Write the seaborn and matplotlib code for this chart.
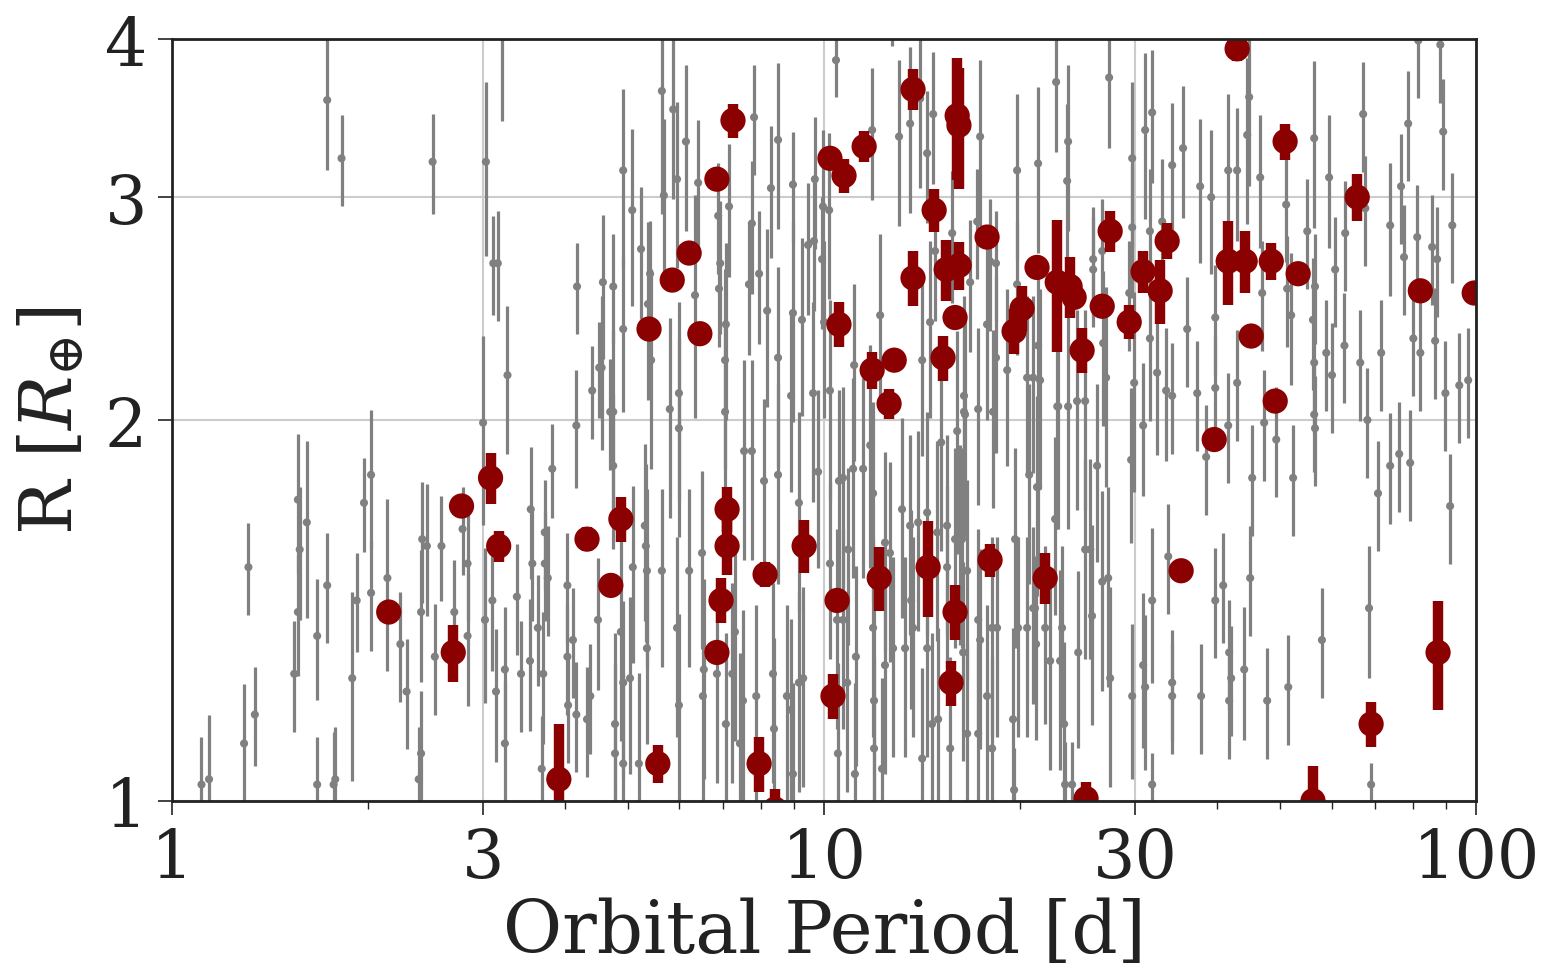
import numpy as np
import matplotlib
matplotlib.use("Agg")
import matplotlib.pyplot as plt
import seaborn as sns
from matplotlib.ticker import FixedLocator, NullFormatter, NullLocator

# --- all other planets (gray): period [d], radius [R_earth], fractional radius error
gray_period = [
    1.73, 1.82, 2.51, 3.03, 3.21, 3.11, 3.16, 4.18, 4.58, 1.56, 1.61, 1.57, 1.97, 2.02, 1.31, 1.73, 2.14, 2.42, 2.46, 2.59,
    2.79, 3.00, 3.27, 3.55, 3.83, 3.73, 4.17, 4.41, 4.52, 4.70, 1.11, 1.14, 1.29, 1.34, 1.56, 1.54, 1.67, 1.67, 1.78, 1.77,
    1.92, 1.89, 2.02, 2.24, 2.29, 2.41, 2.53, 2.41, 2.39, 2.71, 2.84, 2.84, 3.02, 3.10, 3.14, 3.24, 3.24, 3.38, 3.43, 3.57,
    3.54, 3.64, 3.71, 3.73, 3.77, 3.69, 4.04, 4.04, 4.12, 4.17, 4.05, 4.33, 4.38, 4.50, 5.64, 5.87, 4.92, 5.08, 5.24, 5.41,
    4.75, 5.68, 5.95, 6.14, 6.41, 6.88, 6.93, 6.90, 7.15, 7.67, 7.75, 7.81, 7.95, 8.29, 8.50, 8.96, 9.45, 9.65, 9.68, 9.93,
    9.96, 10.18, 10.43, 11.85, 13.03, 13.55, 14.04, 14.70, 14.39, 15.72, 14.80, 17.35, 17.17, 18.35, 19.77, 21.29, 16.75, 19.77, 17.97, 12.72,
    22.69, 23.59, 23.67, 27.36, 31.85, 31.07, 29.68, 34.18, 35.52, 37.73, 39.23, 41.66, 42.99, 44.86, 44.55, 46.64, 51.12, 56.44, 59.49, 67.09,
    78.64, 89.0, 76.7, 73.8, 91.9, 81.5, 88.1, 62.97, 60.77, 67.6, 77.5, 81.2, 85.6, 87.1, 29.68, 31.6, 33.0, 25.86, 25.86, 26.7,
    29.37, 51.3, 56.6, 46.97, 55.07, 21.29, 21.44, 22.78, 23.67, 24.43, 25.14, 26.79, 27.07, 26.22, 29.57, 29.89, 30.85, 31.6, 32.41, 33.46,
    34.18, 36.04, 37.34, 39.8, 39.8, 38.54, 41.66, 42.99, 45.34, 47.3, 49.36, 52.03, 52.39, 56.2, 56.44, 56.44, 56.6, 58.9, 60.1, 62.8,
    66.4, 68.1, 71.5, 70.7, 73.8, 76.2, 79.2, 80.1, 82.1, 86.5, 89.7, 91.2, 94.2, 97.2, 22.61, 21.29, 25.14, 25.59, 21.83, 23.17,
    22.22, 23.01, 23.34, 23.42, 24.01, 24.53, 25.76, 26.7, 27.27, 27.46, 29.68, 31.07, 30.85, 31.85, 31.85, 33.71, 34.18, 34.18, 37.86, 39.8,
    40.93, 41.8, 42.1, 41.8, 44.08, 45.02, 47.8, 51.5, 58.0, 68.5, 69.0, 21.06, 5.37, 4.92, 4.56, 4.75, 4.75, 5.31, 5.33, 5.80,
    5.99, 5.99, 5.43, 6.34, 7.05, 7.05, 7.07, 7.54, 7.75, 8.09, 8.18, 8.50, 8.50, 8.90, 8.96, 9.25, 9.15, 9.62, 9.79, 10.21,
    10.54, 11.08, 11.48, 11.12, 11.89, 11.77, 12.19, 13.17, 13.55, 13.94, 14.39, 14.14, 14.54, 15.12, 15.44, 16.16, 16.39, 17.23, 17.78, 18.16,
    18.35, 19.63, 19.09, 20.48, 20.92, 21.21, 10.0, 5.09, 5.35, 5.64, 6.21, 6.50, 4.88, 5.35, 5.04, 4.92, 4.78, 4.78, 4.92, 5.20,
    5.95, 5.99, 6.52, 6.54, 6.85, 7.23, 7.30, 7.07, 7.51, 7.43, 7.87, 8.35, 8.38, 8.77, 8.96, 8.90, 9.15, 9.29, 10.21, 10.89,
    10.47, 10.50, 10.85, 11.19, 11.15, 11.89, 11.93, 11.93, 12.27, 12.40, 12.76, 13.31, 13.69, 14.14, 14.39, 14.64, 14.96, 15.44, 15.61, 16.34,
    16.57, 16.57, 17.23, 17.35, 17.23, 18.10, 17.78, 19.49, 19.56, 19.84, 20.92, 21.14,
    10.69, 14.91, 15.88, 16.28, 16.39, 16.45, 16.0, 20.63, 18.10, 18.42, 20.48, 13.6, 10.69, 12.40, 12.62, 22.86,
]
gray_radius = [
    3.58, 3.22, 3.20, 3.20, 4.10, 2.66, 2.66, 2.55, 2.57, 1.73, 1.66, 1.58, 1.72, 1.81, 1.53, 1.48, 1.50, 1.61, 1.59, 1.59,
    1.64, 1.99, 2.17, 1.70, 1.83, 1.63, 1.98, 2.11, 2.20, 2.03, 1.03, 1.04, 1.11, 1.17, 1.41, 1.26, 1.35, 1.03, 1.04, 1.03,
    1.44, 1.25, 1.46, 1.33, 1.22, 1.41, 1.30, 1.09, 1.04, 1.41, 1.35, 1.54, 1.39, 1.44, 1.22, 1.27, 1.11, 1.45, 1.26, 1.54,
    1.29, 1.37, 1.26, 1.54, 1.50, 1.06, 1.48, 1.30, 1.34, 1.17, 1.19, 1.16, 1.21, 1.39, 3.64, 3.52, 3.15, 2.93, 2.73, 2.61,
    2.55, 3.01, 3.10, 3.32, 3.08, 2.90, 2.66, 2.54, 2.95, 2.56, 2.86, 3.47, 2.61, 3.05, 3.33, 3.07, 2.75, 2.77, 3.10, 2.68,
    2.95, 2.93, 3.85, 3.39, 3.35, 3.43, 3.59, 3.49, 3.25, 2.81, 2.72, 3.35, 2.87, 2.66, 3.15, 3.19, 2.57, 2.56, 2.67, 4.20,
    3.70, 3.09, 3.32, 3.73, 3.50, 3.39, 3.22, 3.18, 3.28, 3.06, 3.00, 3.15, 3.15, 3.60, 3.36, 3.11, 2.96, 3.34, 3.11, 3.49,
    3.43, 3.38, 3.06, 2.85, 2.85, 3.99, 3.96, 2.81, 2.63, 2.94, 2.69, 2.79, 2.74, 2.68, 2.84, 2.82, 2.87, 2.68, 2.63, 2.72,
    2.52, 2.54, 2.55, 2.52, 2.82, 2.29, 2.15, 2.05, 2.05, 2.07, 2.07, 2.30, 2.16, 1.84, 1.86, 2.14, 1.98, 2.32, 2.18, 2.11,
    2.09, 2.36, 2.10, 2.41, 2.12, 1.87, 1.98, 2.14, 1.80, 1.99, 1.93, 2.42, 1.80, 2.40, 2.22, 2.02, 1.97, 2.26, 2.17, 2.29,
    2.22, 2.00, 2.26, 1.75, 1.84, 1.88, 1.85, 2.32, 2.26, 2.31, 2.10, 1.71, 2.13, 2.15, 1.67, 1.77, 1.58, 1.58, 1.37, 1.37,
    1.29, 1.29, 1.15, 1.03, 1.03, 1.31, 1.40, 1.49, 1.50, 1.25, 1.21, 1.23, 1.28, 1.44, 1.03, 1.56, 1.24, 1.21, 1.21, 1.44,
    1.48, 1.31, 1.25, 1.20, 1.27, 1.50, 1.20, 1.23, 1.34, 1.42, 1.03, 1.42, 2.47, 2.36, 2.20, 2.03, 1.84, 1.65, 1.59, 2.04,
    2.10, 1.97, 2.23, 2.51, 2.03, 2.23, 2.38, 1.89, 1.89, 1.79, 2.44, 2.24, 1.81, 2.09, 2.43, 2.40, 1.72, 2.10, 1.82, 2.11,
    1.79, 1.83, 1.83, 2.21, 1.75, 1.91, 2.42, 1.70, 1.65, 1.66, 1.69, 2.23, 2.39, 1.92, 1.65, 1.62, 2.03, 2.04, 2.38, 2.03,
    2.24, 1.61, 2.19, 2.16, 2.16, 1.77, 2.39, 1.53, 1.52, 1.52, 1.52, 1.57, 1.36, 1.32, 1.25, 1.24, 1.15, 1.09, 1.07, 1.07,
    1.37, 1.19, 1.21, 1.27, 1.26, 1.26, 1.36, 1.15, 1.20, 1.11, 1.21, 1.26, 1.14, 1.21, 1.05, 1.18, 1.24, 1.25, 1.54, 1.58,
    1.39, 1.09, 1.24, 1.30, 1.05, 1.37, 1.20, 1.10, 1.06, 1.28, 1.32, 1.32, 1.37, 1.08, 1.32, 1.15, 1.16, 1.53, 1.10, 1.31,
    1.13, 1.52, 1.39, 1.34, 1.13, 1.10, 1.21, 1.16, 1.02, 1.37, 1.42, 1.33,
    1.80, 1.63, 1.61, 1.61, 2.09, 2.02, 1.96, 1.81, 1.37, 1.37, 1.37, 1.44, 1.39, 1.60, 1.57, 2.05,
]
gray_err = [
    .12, .083, .09, .157, .16, .09, .10, .083, .13, .126, .16, .12, .085, .126, .083, .10, .155, .11, .12, .095,
    .08, .17, .134, .12, .085, .10, .107, .085, .087, .10, .09, .125, .115, .09, .11, .10, .11, .09, .10, .10,
    .09, .17, .10, .10, .10, .12, .10, .12, .10, .10, .12, .10, .14, .12, .12, .12, .12, .10, .10, .10,
    .12, .10, .12, .10, .10, .10, .10, .10, .10, .10, .10, .10, .10, .12, .20, .15, .16, .16, .12, .10,
    .10, .15, .15, .15, .12, .10, .12, .10, .12, .12, .12, .10, .12, .12, .15, .10, .12, .12, .12, .12,
    .15, .15, .065, .12, .15, .15, .15, .12, .12, .12, .12, .15, .10, .10, .15, .15, .12, .12, .12, .06,
    .12, .15, .15, .12, .12, .15, .15, .12, .12, .13, .13, .15, .12, .15, .15, .12, .10, .15, .12, .10,
    .10, .10, .10, .12, .10, .10, .10, .10, .10, .10, .10, .10, .10, .10, .12, .12, .12, .10, .10, .10,
    .10, .10, .10, .10, .10, .18, .18, .20, .20, .18, .18, .14, .18, .16, .14, .18, .12, .14, .14, .12,
    .10, .10, .10, .10, .10, .10, .10, .10, .10, .10, .10, .12, .10, .12, .12, .10, .10, .10, .10, .10,
    .10, .10, .10, .10, .10, .10, .10, .10, .10, .10, .10, .10, .10, .10, .16, .16, .18, .18, .16, .16,
    .18, .18, .16, .08, .08, .16, .18, .18, .18, .18, .14, .14, .14, .14, .06, .10, .10, .10, .10, .10,
    .10, .10, .10, .10, .12, .10, .10, .10, .10, .12, .04, .10, .16, .14, .14, .16, .14, .16, .16, .18,
    .18, .18, .18, .20, .18, .18, .16, .18, .18, .16, .16, .18, .18, .16, .18, .16, .18, .18, .16, .18,
    .18, .18, .18, .16, .18, .20, .16, .18, .18, .18, .20, .16, .16, .18, .18, .18, .16, .16, .16, .16,
    .16, .18, .16, .16, .16, .18, .16, .16, .16, .16, .16, .16, .18, .16, .16, .16, .18, .18, .18, .18,
    .18, .18, .18, .18, .18, .18, .18, .18, .18, .18, .18, .18, .18, .18, .18, .18, .18, .18, .16, .16,
    .18, .18, .18, .18, .18, .18, .18, .18, .18, .18, .18, .18, .18, .18, .18, .18, .18, .16, .18, .18,
    .18, .18, .18, .18, .18, .18, .18, .18, .08, .18, .16, .16,
    .18, .18, .18, .18, .20, .20, .20, .18, .18, .18, .18, .18, .18, .18, .18, .20,
]

# --- highlighted sample (dark red)
red_period = [
    2.15, 2.70, 2.78, 3.08, 3.17, 3.92, 4.33, 4.71, 4.88, 5.39, 5.56, 5.85, 6.21, 6.45, 6.85, 6.85, 6.95, 7.10, 7.10, 7.25,
    7.95, 8.12, 8.41, 9.32, 10.21, 10.32, 10.47, 10.54, 10.73, 11.52, 11.85, 12.15, 12.58, 12.81, 13.69, 13.69, 14.44, 14.75, 15.22, 15.39,
    15.66, 15.88, 15.88, 16.0, 16.1, 16.11, 17.78, 17.97, 19.56, 20.12, 21.21, 21.83, 22.78, 23.84, 24.18, 24.87, 25.22, 26.7, 27.46, 29.37,
    30.85, 32.76, 33.58, 35.28, 39.65, 41.66, 42.99, 44.23, 45.18, 48.5, 49.18, 50.93, 53.33, 56.2, 69.0, 65.7, 82.1, 87.4, 99.3,
]
red_radius = [
    1.41, 1.31, 1.71, 1.80, 1.59, 1.04, 1.61, 1.48, 1.67, 2.36, 1.07, 2.58, 2.71, 2.34, 3.10, 1.31, 1.44, 1.70, 1.59, 3.45,
    1.07, 1.51, 0.985, 1.59, 3.22, 1.21, 1.44, 2.38, 3.12, 3.29, 2.19, 1.50, 2.06, 2.23, 3.65, 2.59, 1.53, 2.93, 2.24, 2.63,
    1.24, 2.41, 1.41, 3.48, 3.42, 2.65, 2.79, 1.55, 2.35, 2.45, 2.64, 1.50, 2.57, 2.55, 2.50, 2.27, 1.004, 2.46, 2.82, 2.39,
    2.62, 2.53, 2.77, 1.52, 1.93, 2.67, 3.93, 2.67, 2.33, 2.67, 2.07, 3.32, 2.61, 1.0, 1.15, 3.0, 2.53, 1.31, 2.52,
]
red_err = [
    .015, .052, .018, .046, .028, .105, .022, .015, .041, .015, .035, .015, .015, .015, .015, .015, .041, .041, .052, .031,
    .05, .022, .037, .048, .018, .041, .015, .041, .031, .028, .033, .058, .028, .015, .037, .05, .087, .039, .041, .056,
    .041, .015, .05, .11, .11, .043, .015, .03, .041, .041, .015, .046, .12, .056, .015, .041, .031, .015, .037, .031,
    .039, .058, .033, .015, .015, .076, .022, .056, .015, .033, .018, .033, .015, .066, .041, .043, .015, .099, .015,
]

sns.set_theme(style="whitegrid")
plt.rcParams['font.family'] = ['DejaVu Serif']
plt.rcParams['mathtext.fontset'] = 'dejavuserif'

fig, ax = plt.subplots(figsize=(15.49, 9.79), dpi=100)
fig.subplots_adjust(left=0.111, right=0.953, top=0.959, bottom=0.181)

gp = np.array(gray_period)
gr = np.array(gray_radius)
rp = np.array(red_period)
rr = np.array(red_radius)

ax.errorbar(gp, gr, yerr=gr * np.array(gray_err), fmt='none', ecolor='#808080',
            elinewidth=2.3, capsize=0, zorder=2)
sns.scatterplot(x=gp, y=gr, color='#808080', s=34, edgecolor='none', ax=ax, zorder=3)

ax.errorbar(rp, rr, yerr=rr * np.array(red_err), fmt='none', ecolor='#8b0000',
            elinewidth=7.5, capsize=0, zorder=4)
sns.scatterplot(x=rp, y=rr, color='#8b0000', s=330, edgecolor='none', ax=ax, zorder=5)

ax.set_xscale('log')
ax.set_yscale('log')
ax.set_xlim(1, 100)
ax.set_ylim(1, 4)

ax.xaxis.set_major_locator(FixedLocator([1, 3, 10, 30, 100]))
ax.set_xticklabels(['1', '3', '10', '30', '100'])
ax.xaxis.set_minor_locator(FixedLocator([2, 4, 5, 6, 7, 8, 9, 20, 40, 50, 60, 70, 80, 90]))
ax.xaxis.set_minor_formatter(NullFormatter())
ax.yaxis.set_major_locator(FixedLocator([1, 2, 3, 4]))
ax.set_yticklabels(['1', '2', '3', '4'])
ax.yaxis.set_minor_locator(NullLocator())

ax.grid(True, which='major', color='#cccccc', linewidth=1.5)
ax.tick_params(axis='both', which='major', labelsize=48, colors='#222222',
               bottom=True, left=True, direction='out', length=10, width=1.2, pad=8)
ax.tick_params(axis='x', which='minor', bottom=True, direction='out', length=6,
               width=1, colors='#222222')

for sp in ax.spines.values():
    sp.set_color('#222222')
    sp.set_linewidth(2)
    sp.set_zorder(6)

ax.set_xlabel('Orbital Period [d]', fontsize=52, color='#222222', labelpad=4)
ax.set_ylabel(r'R [$R_{\oplus}$]', fontsize=52, color='#222222', labelpad=12)

fig.savefig('out.png', dpi=100)
